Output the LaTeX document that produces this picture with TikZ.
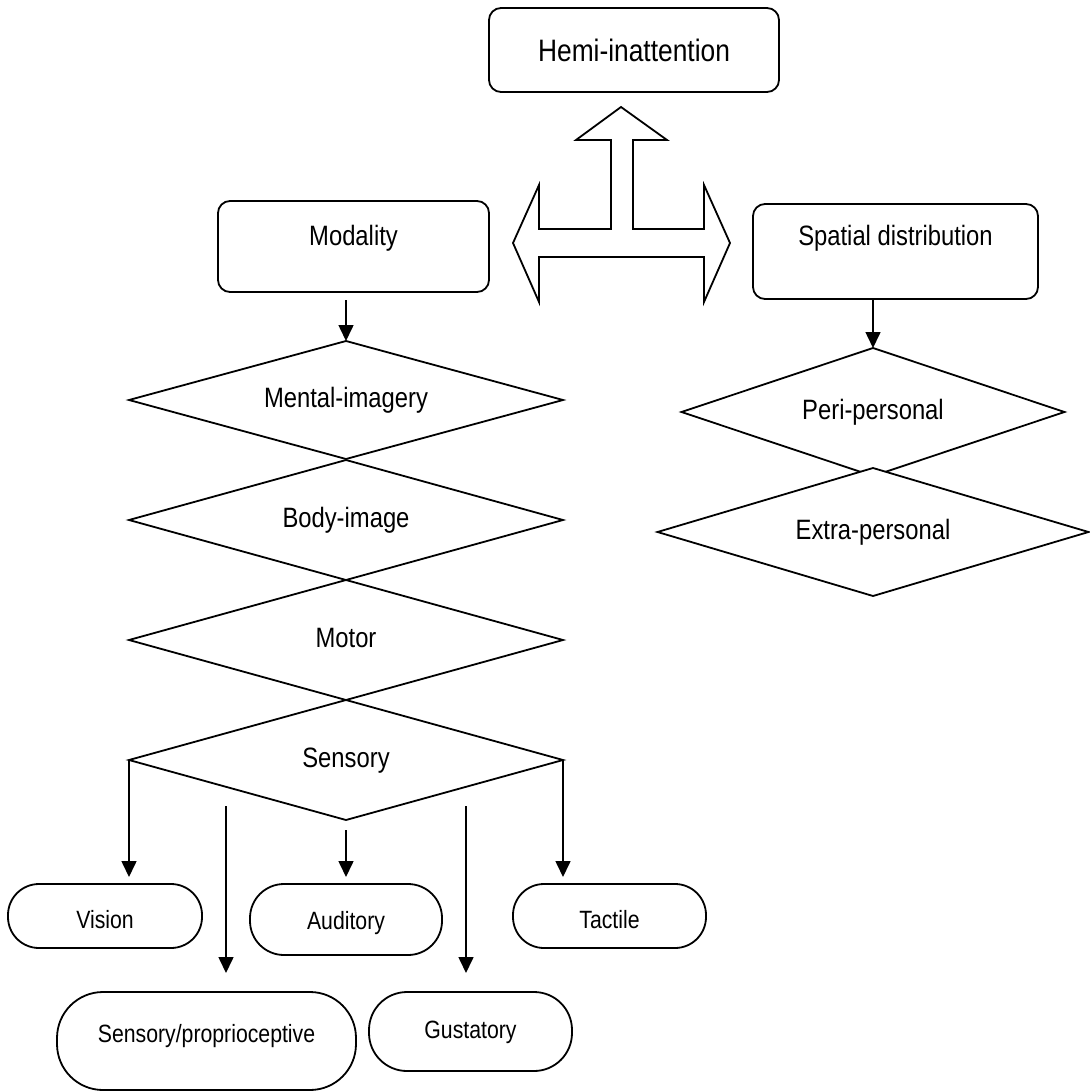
\documentclass[tikz,border=0pt]{standalone}
\usepackage{fontspec}
\setmainfont{Liberation Sans}[FakeStretch=0.85]
\usetikzlibrary{shapes.geometric,arrows.meta}

\begin{document}
\begin{tikzpicture}[x=1pt,y=-1pt,
  line width=1.8pt,
  rbox/.style={draw, rounded corners=12pt, inner sep=0pt, outer sep=0pt},
  pill/.style={draw, inner sep=0pt, outer sep=0pt},
  dia/.style={draw, diamond, inner sep=0pt, outer sep=0pt,
    font=\fontsize{28}{30}\selectfont, text height=20pt, text depth=6pt},
  txt/.style={font=\fontsize{28}{30}\selectfont, inner sep=0pt,
    text height=20pt, text depth=6pt},
  big/.style={font=\fontsize{31}{33}\selectfont, inner sep=0pt,
    text height=22pt, text depth=7pt},
  small/.style={font=\fontsize{25}{27}\selectfont, inner sep=0pt,
    text height=18pt, text depth=5pt},
  arr/.style={-{Triangle[width=15pt,length=16pt]}, line width=1.6pt},
]
\path[fill=white] (0,0) rectangle (1089,1091);
\useasboundingbox (0,0) rectangle (1089,1091);

% top-level boxes
\node[rbox, minimum width=290pt, minimum height=84pt,
  label={[big, yshift=-4.2pt]center:Hemi-inattention}] (hemi) at (634,50) {};
\node[rbox, minimum width=271pt, minimum height=91pt,
  label={[txt, yshift=7.5pt]center:Modality}] (modality) at (353.5,246.5) {};
\node[rbox, minimum width=285pt, minimum height=95pt,
  label={[txt, yshift=13.5pt]center:Spatial distribution}] (spatial) at (895.5,251.5) {};

% hollow three-way arrow
\draw (621,107) -- (667,140) -- (633,140) -- (633,229) -- (704,229) -- (704,185)
  -- (730,243) -- (704,302) -- (704,257) -- (539,257) -- (539,302) -- (513,243)
  -- (539,185) -- (539,229) -- (611,229) -- (611,140) -- (576,140) -- cycle;

% modality chain
\node[dia, minimum width=434pt, minimum height=118pt, aspect=3.6] (mental) at (346,400) {Mental-imagery};
\node[dia, minimum width=434pt, minimum height=120pt, aspect=3.6] (body) at (346,520) {Body-image};
\node[dia, minimum width=434pt, minimum height=120pt, aspect=3.6] (motor) at (346,640) {Motor};
\node[dia, minimum width=434pt, minimum height=120pt, aspect=3.6] (sensory) at (346,760) {Sensory};

% spatial distribution
\node[dia, minimum width=383pt, minimum height=128pt, aspect=3] (peri) at (873,412) {Peri-personal};
\node[dia, fill=white, minimum width=431pt, minimum height=128pt, aspect=3.37] (extra) at (873,532) {Extra-personal};

% sensory sub-types
\node[pill, rounded corners=31pt, minimum width=194pt, minimum height=64pt,
  label={[small, yshift=-5.5pt]center:Vision}] (vision) at (105,916) {};
\node[pill, rounded corners=34pt, minimum width=192pt, minimum height=71pt,
  label={[small, yshift=-3pt]center:Auditory}] (auditory) at (346,919.5) {};
\node[pill, rounded corners=31pt, minimum width=193pt, minimum height=64pt,
  label={[small, yshift=-5.5pt]center:Tactile}] (tactile) at (609.5,916) {};
\node[pill, rounded corners=46pt, minimum width=299pt, minimum height=98pt,
  label={[small, yshift=5.5pt]center:Sensory/proprioceptive}] (sp) at (206.5,1041) {};
\node[pill, rounded corners=38pt, minimum width=203pt, minimum height=79pt,
  label={[small]center:Gustatory}] (gust) at (470.5,1031.5) {};

% connectors
\draw[arr, shorten <=8pt] (mental.north |- modality.south) -- (mental.north);
\draw[arr] (peri.north |- spatial.south) -- (peri.north);
\draw[arr, shorten >=7pt] (sensory.west) -- (sensory.west |- vision.north);
\draw[arr, shorten <=10pt, shorten >=7pt] (sensory.south) -- (sensory.south |- auditory.north);
\draw[arr, shorten >=7pt] (sensory.east) -- (sensory.east |- tactile.north);
\coordinate (spfrom) at (226,806);
\coordinate (gufrom) at (466,806);
\draw[arr, shorten >=19pt] (spfrom) -- (spfrom |- sp.north);
\draw[arr, shorten >=19pt] (gufrom) -- (gufrom |- gust.north);
\end{tikzpicture}
\end{document}
